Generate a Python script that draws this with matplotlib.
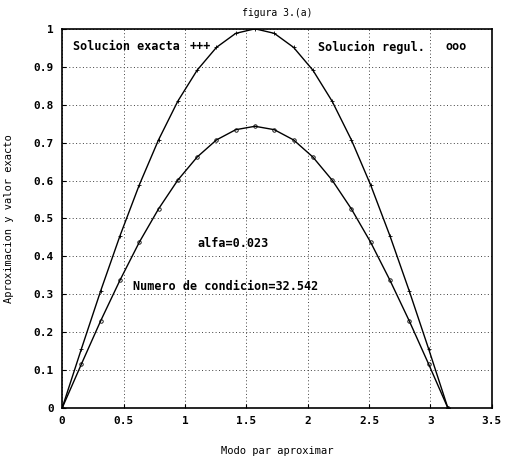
import matplotlib.pyplot as plt

# ==========================================
# DATA
# ==========================================

x_nodes = [0.000, 0.157, 0.314, 0.471, 0.628, 0.785, 0.942, 1.100, 1.257, 1.414,
           1.571, 1.728, 1.885, 2.042, 2.199, 2.356, 2.513, 2.670, 2.827, 2.985, 3.142]

exacta = [0.000, 0.156, 0.309, 0.454, 0.588, 0.707, 0.809, 0.891, 0.951, 0.988,
          1.000, 0.988, 0.951, 0.891, 0.809, 0.707, 0.588, 0.454, 0.309, 0.156, 0.000]

regul = [0.000, 0.116, 0.230, 0.337, 0.437, 0.525, 0.601, 0.662, 0.707, 0.734,
         0.743, 0.734, 0.707, 0.662, 0.601, 0.525, 0.437, 0.337, 0.230, 0.116, 0.000]

x_ticks = [0, 0.5, 1, 1.5, 2, 2.5, 3, 3.5]
x_tick_labels = ["0", "0.5", "1", "1.5", "2", "2.5", "3", "3.5"]
y_ticks = [0, 0.1, 0.2, 0.3, 0.4, 0.5, 0.6, 0.7, 0.8, 0.9, 1]
y_tick_labels = ["0", "0.1", "0.2", "0.3", "0.4", "0.5", "0.6", "0.7", "0.8", "0.9", "1"]

alfa = 0.023
num_cond = 32.542

# ==========================================
# FIGURE
# ==========================================

plt.rcParams["font.family"] = "DejaVu Sans Mono"
plt.rcParams["font.weight"] = "bold"

fig = plt.figure(figsize=(5.05, 4.57), dpi=100)
ax = fig.add_axes([0.123, 0.107, 0.851, 0.830])

ax.plot(x_nodes, exacta, color="black", linewidth=1.0,
        marker="+", markersize=3, markeredgewidth=0.6)
ax.plot(x_nodes, regul, color="black", linewidth=1.0,
        marker="o", markersize=2.5, markerfacecolor="none", markeredgewidth=0.6)

ax.set_xlim(0, 3.5)
ax.set_ylim(0, 1)
ax.set_xticks(x_ticks)
ax.set_xticklabels(x_tick_labels)
ax.set_yticks(y_ticks)
ax.set_yticklabels(y_tick_labels)
ax.tick_params(direction="in", length=3, labelsize=8, pad=6)

ax.grid(True, color="0.25", linestyle=(0, (1, 2.5)), linewidth=0.7)

for s in ax.spines.values():
    s.set_linewidth(1.2)

# ==========================================
# TEXTS
# ==========================================

ax.text(0.09, 0.952, "Solucion exacta", fontsize=8.5, va="center")
ax.text(1.04, 0.952, "+++", fontsize=8.5, va="center")
ax.text(2.08, 0.952, "Solucion regul.", fontsize=8.5, va="center")
ax.text(3.12, 0.952, "ooo", fontsize=8.5, va="center")

ax.text(1.10, 0.435, f"alfa={alfa:.3f}", fontsize=8.5, va="center")
ax.text(0.58, 0.320, f"Numero de condicion={num_cond:.3f}", fontsize=8.5, va="center")

ax.set_title("figura 3.(a)", fontsize=7, pad=9)
ax.set_xlabel("Modo par aproximar", fontsize=7.5, labelpad=14)
ax.set_ylabel("Aproximacion y valor exacto", fontsize=7.5, labelpad=14)

plt.savefig("out.png", dpi=100)
